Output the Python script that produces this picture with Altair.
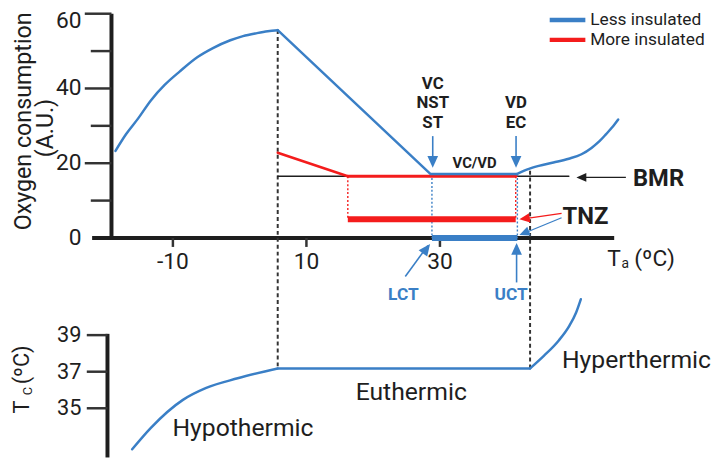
import altair as alt
import pandas as pd

# ---------------- data ----------------
# Top panel: oxygen consumption (A.U.) against ambient temperature Ta (ºC)
less_cold_ta = [-18.6, -17.0, -15.2, -13.3, -11.2, -9.0, -6.3, -4.0, -1.4, 0.5, 2.6, 4.2, 5.7]
less_cold_o2 = [23.3, 27.8, 32.0, 36.8, 41.0, 44.5, 48.4, 50.8, 52.9, 54.0, 54.8, 55.3, 55.6]
less_mid_ta = [5.7, 28.6, 41.5]
less_mid_o2 = [55.6, 17.1, 17.1]
less_hot_ta = [41.5, 43.0, 44.8, 47.0, 49.3, 51.2, 52.7, 53.9, 54.9, 55.8, 56.7]
less_hot_o2 = [17.1, 18.3, 19.3, 20.2, 21.2, 22.4, 24.1, 25.9, 27.8, 29.6, 31.7]
more_slope_ta = [5.7, 16.2]
more_slope_o2 = [22.8, 16.5]
more_flat_ta = [16.2, 41.4]
bmr_ta = [5.7, 49.3]
bmr_o2 = 16.5
lct_less, uct_less = 28.8, 41.6
lct_more, uct_more = 16.2, 41.35
less_flat_o2 = 17.1
tnz_more_o2 = 5.0
tnz_less_o2 = 0.0
limit_lo, limit_hi = 5.7, 43.5
limit_hi_top = 18.0
peak_o2 = 55.6

# Bottom panel: core temperature Tc (ºC)
tc_cold_ta = [-16.1, -13.3, -8.5, -5.1, -0.3, 5.7]
tc_cold = [32.76, 33.93, 35.46, 36.1, 36.64, 37.18]
tc_eu_ta = [5.7, 43.5]
tc_eu = 37.18
tc_hot_ta = [43.5, 45.6, 47.8, 49.4, 50.4, 51.1]
tc_hot = [37.18, 37.88, 38.71, 39.52, 40.24, 40.96]

o2_ticks = [0, 20, 40, 60]
o2_minor = [10, 30, 50]
ta_ticks = [-10, 10, 30]
tc_ticks = [35, 37, 39]

# ---------------- layout ----------------
W, H = 713, 452
XS = alt.Scale(domain=[-34.7, 70.9], nice=False, zero=False)
YT = alt.Scale(domain=[-58.73, 60.85], nice=False, zero=False)
YB = alt.Scale(domain=[32.31, 56.75], nice=False, zero=False)
BLUE = "#3a7fc6"
RED = "#f41c1c"
INK = "#1e1e1e"
GREY = "#333333"
FONT = "Roboto"
HEAD = "M0,0L0.9,2L-0.9,2Z"
BOT_LINK = -34.9  # o2-scale value at the bottom panel's euthermic line


def X(f="x"):
    return alt.X(f + ":Q", scale=XS, axis=None)


def Y(f, s):
    return alt.Y(f + ":Q", scale=s, axis=None)


def path(ta, vals, scale, color, width, interp="linear", dash=None):
    if not isinstance(vals, list):
        vals = [vals] * len(ta)
    df = pd.DataFrame({"x": ta, "y": vals, "o": list(range(len(ta)))})
    kw = dict(color=color, strokeWidth=width, interpolate=interp, strokeCap="round", strokeJoin="round")
    if dash:
        kw["strokeDash"] = dash
    return alt.Chart(df).mark_line(**kw).encode(x=X(), y=Y("y", scale), order="o:Q")


def rules(rows, scale, width, dash=None, cap="butt"):
    df = pd.DataFrame(rows, columns=["x", "x2", "y", "y2", "c"])
    kw = dict(strokeWidth=width, strokeCap=cap)
    if dash:
        kw["strokeDash"] = dash
    return alt.Chart(df).mark_rule(**kw).encode(
        x=X(), x2="x2:Q", y=Y("y", scale), y2="y2:Q", color=alt.Color("c:N", scale=None))


def texts(rows, scale, weight="normal", align="center", baseline="middle", dy=0):
    df = pd.DataFrame(rows, columns=["x", "y", "t", "s", "c", "a"])
    return alt.Chart(df).mark_text(font=FONT, fontWeight=weight, align=align, baseline=baseline, dy=dy).encode(
        x=X(), y=Y("y", scale), text="t:N", size=alt.Size("s:Q", scale=None),
        color=alt.Color("c:N", scale=None), angle=alt.Angle("a:Q", scale=None))


def heads(rows, scale):
    df = pd.DataFrame(rows, columns=["x", "y", "a", "s", "c"])
    return alt.Chart(df).mark_point(shape=HEAD, filled=True, opacity=1, strokeWidth=0).encode(
        x=X(), y=Y("y", scale), angle=alt.Angle("a:Q", scale=None),
        size=alt.Size("s:Q", scale=None), color=alt.Color("c:N", scale=None))


layers = []

# ---- top panel axes ----
layers.append(rules([[-22.1, 56.1, 0, 0, INK], [-19.2, -19.2, 0, 60, INK]], YT, 4))
layers.append(rules([[-23.2, -19.2, v, v, GREY] for v in o2_ticks[1:]] +
                    [[-22.3, -19.2, v, v, GREY] for v in o2_minor] +
                    [[t, t, 0, -2.4, GREY] for t in ta_ticks], YT, 2.5))
layers.append(texts([[-23.7, v, str(v), 23, INK, 0] for v in o2_ticks[:-1]], YT, align="right"))
layers.append(texts([[-23.7, o2_ticks[-1], str(o2_ticks[-1]), 23, INK, 0]], YT, align="right", dy=7))
layers.append(texts([[t, -6.35, str(t), 23, INK, 0] for t in ta_ticks], YT))
layers.append(texts([[56.07, -5.56, "T", 23, INK, 0], [62.15, -5.56, "(ºC)", 23, INK, 0],
                     [57.75, -7.0, "a", 14, INK, 0]], YT))
layers.append(texts([[-31.3, 31.2, "Oxygen consumption", 23.5, INK, 270],
                     [-27.9, 29.4, "(A.U.)", 23.5, INK, 270]], YT, baseline="alphabetic"))

# ---- bottom panel axes ----
layers.append(rules([[-19.8, -19.8, 39.07, 32.31, INK]], YB, 4))
layers.append(rules([[-22.9, -19.8, t, t, GREY] for t in tc_ticks], YB, 2.5))
layers.append(texts([[-23.7, t, str(t), 22, INK, 0] for t in tc_ticks], YB, align="right"))
layers.append(texts([[-31.6, 35.07, "T", 22, INK, 270], [-31.6, 37.37, "(ºC)", 22, INK, 270],
                     [-31.1, 35.94, "C", 13, INK, 270]], YB, baseline="alphabetic"))

# ---- dashed limits ----
layers.append(rules([[limit_lo, limit_lo, peak_o2, BOT_LINK, GREY],
                     [limit_hi, limit_hi, limit_hi_top, BOT_LINK, GREY]], YT, 2, dash=[4, 3]))

# ---- BMR line and dotted drops ----
layers.append(path(bmr_ta, bmr_o2, YT, INK, 1.6))
layers.append(rules([[lct_more, lct_more, bmr_o2, tnz_more_o2, RED],
                     [uct_more, uct_more, bmr_o2, tnz_more_o2, RED]], YT, 1.4, dash=[2, 2]))
layers.append(rules([[lct_less, lct_less, less_flat_o2, tnz_less_o2, BLUE],
                     [uct_less, uct_less, less_flat_o2, tnz_less_o2, BLUE]], YT, 1.4, dash=[2, 2]))

# ---- more insulated (red) ----
layers.append(path(more_slope_ta, more_slope_o2, YT, RED, 2.5))
layers.append(path(more_flat_ta, bmr_o2, YT, RED, 3))
layers.append(rules([[lct_more, uct_more, tnz_more_o2, tnz_more_o2, RED]], YT, 6))

# ---- less insulated (blue) ----
layers.append(path(less_cold_ta, less_cold_o2, YT, BLUE, 2.5, interp="monotone"))
layers.append(path(less_mid_ta, less_mid_o2, YT, BLUE, 2.5))
layers.append(path(less_hot_ta, less_hot_o2, YT, BLUE, 2.5, interp="monotone"))
layers.append(rules([[lct_less, uct_less, tnz_less_o2, tnz_less_o2, BLUE]], YT, 6))

# ---- legend ----
layers.append(rules([[46.44, 51.78, 58.3, 58.3, BLUE], [46.44, 51.78, 53.0, 53.0, RED]], YT, 4.5))
layers.append(texts([[52.5, 58.3, "Less insulated", 17.5, INK, 0],
                     [52.5, 53.0, "More insulated", 17.5, INK, 0]], YT, align="left"))

# ---- arrows ----
layers.append(rules([[28.92, 28.92, 27.25, 19.5, BLUE], [41.4, 41.4, 27.25, 19.5, BLUE],
                     [24.81, 28.2, -10.32, -2.0, BLUE], [41.48, 41.48, -11.9, -2.0, BLUE]], YT, 1.6))
layers.append(rules([[57.85, 51.0, 16.2, 16.2, INK]], YT, 1.3))
layers.append(rules([[48.22, 42.5, 6.6, 5.1, RED], [48.22, 42.5, 5.4, 1.2, BLUE]], YT, 1.3))
layers.append(heads([[28.92, 18.78, 180, 144, BLUE], [41.4, 18.78, 180, 144, BLUE],
                     [28.52, -1.59, 37.1, 144, BLUE], [41.48, -1.32, 0, 144, BLUE],
                     [50.44, 16.2, 270, 100, INK],
                     [41.9, 5.0, 262, 110, RED], [41.9, 0.79, 248, 110, BLUE]], YT))

# ---- top annotations ----
layers.append(texts([[28.92, 41.27, "VC", 17, INK, 0], [28.92, 35.98, "NST", 17, INK, 0],
                     [28.92, 30.69, "ST", 17, INK, 0], [41.4, 35.98, "VD", 17, INK, 0],
                     [41.4, 30.69, "EC", 17, INK, 0], [35.19, 20.1, "VC/VD", 15, INK, 0],
                     [62.74, 15.87, "BMR", 24, INK, 0], [51.78, 5.6, "TNZ", 24, INK, 0],
                     [24.52, -15.4, "LCT", 17.5, BLUE, 0], [40.67, -15.4, "UCT", 17.5, BLUE, 0]],
                    YT, weight="bold"))

# ---- bottom panel curve ----
layers.append(path(tc_cold_ta, tc_cold, YB, BLUE, 2.5, interp="monotone"))
layers.append(path(tc_eu_ta, tc_eu, YB, BLUE, 2.5))
layers.append(path(tc_hot_ta, tc_hot, YB, BLUE, 2.5, interp="monotone"))
layers.append(texts([[0.5, 33.9, "Hypothermic", 25, INK, 0],
                     [25.7, 35.9, "Euthermic", 25, INK, 0]], YB))
layers.append(texts([[70.6, 37.66, "Hyperthermic", 25, INK, 0]], YB, align="right"))

chart = (
    alt.layer(*layers)
    .resolve_scale(y="independent")
    .properties(width=W, height=H, padding=0, autosize="none", background="white")
    .configure_view(stroke=None)
)

chart.save("out.html", embed_options={"renderer": "svg", "actions": False})
